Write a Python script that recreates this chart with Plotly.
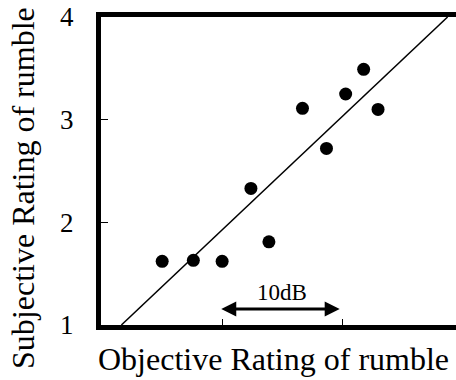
import plotly.graph_objects as go

# Data (objective rating in dB, subjective rating)
obj_db = [5.0, 7.6, 10.0, 12.4, 13.9, 16.7, 18.7, 20.3, 21.8, 23.0]
subj = [1.62, 1.63, 1.62, 2.33, 1.81, 3.11, 2.72, 3.25, 3.49, 3.10]
fit_x = [1.6, 28.8]
fit_y = [1.0, 4.0]
y_ticks = [1, 2, 3, 4]
x_ticks = [10, 20]
scale_start, scale_end, scale_y = 9.8, 19.8, 1.156
scale_label = "10dB"
label_y = 1.32

FONT = "Liberation Serif"

fig = go.Figure()
fig.add_trace(go.Scatter(x=fit_x, y=fit_y, mode="lines",
                         line=dict(color="black", width=1.5), showlegend=False))
fig.add_trace(go.Scatter(x=obj_db, y=subj, mode="markers",
                         marker=dict(color="black", size=13), showlegend=False))

fig.add_annotation(x=scale_end, y=scale_y, ax=scale_start, ay=scale_y,
                   xref="x", yref="y", axref="x", ayref="y", text="",
                   showarrow=True, arrowside="end+start", arrowhead=2,
                   arrowwidth=3, arrowsize=1, arrowcolor="black", standoff=0, startstandoff=0)
fig.add_annotation(x=(scale_start + scale_end) / 2 + 0.2, y=label_y, xref="x", yref="y",
                   text=scale_label, showarrow=False,
                   font=dict(family=FONT, size=23, color="black"))

fig.add_annotation(x=-0.2197, y=0.445, xref="paper", yref="paper",
                   text="Subjective Rating of rumble", textangle=-90, showarrow=False,
                   xanchor="center", yanchor="middle",
                   font=dict(family=FONT, size=32, color="black"))
fig.add_annotation(x=0.487, y=-0.11, xref="paper", yref="paper",
                   text="Objective Rating of rumble", showarrow=False,
                   xanchor="center", yanchor="middle",
                   font=dict(family=FONT, size=32, color="black"))

fig.update_xaxes(range=[-0.1, 29.5], showline=True, linewidth=5, linecolor="black",
                 mirror=True, showgrid=False, zeroline=False, ticks="inside",
                 tickvals=x_ticks, ticklen=6, tickwidth=1, tickcolor="black",
                 showticklabels=False)
fig.update_yaxes(range=[1, 4], showline=True, linewidth=5, linecolor="black",
                 mirror=False, showgrid=False, zeroline=False, ticks="inside",
                 tickvals=y_ticks, ticklen=7, tickwidth=1, tickcolor="black",
                 ticklabelstandoff=17,
                 tickfont=dict(family=FONT, size=27, color="black"))

fig.update_layout(width=456, height=380, margin=dict(l=101, r=0, t=17, b=55),
                  plot_bgcolor="white", paper_bgcolor="white",
                  font=dict(family=FONT, color="black"))

fig.write_html("out.html")
